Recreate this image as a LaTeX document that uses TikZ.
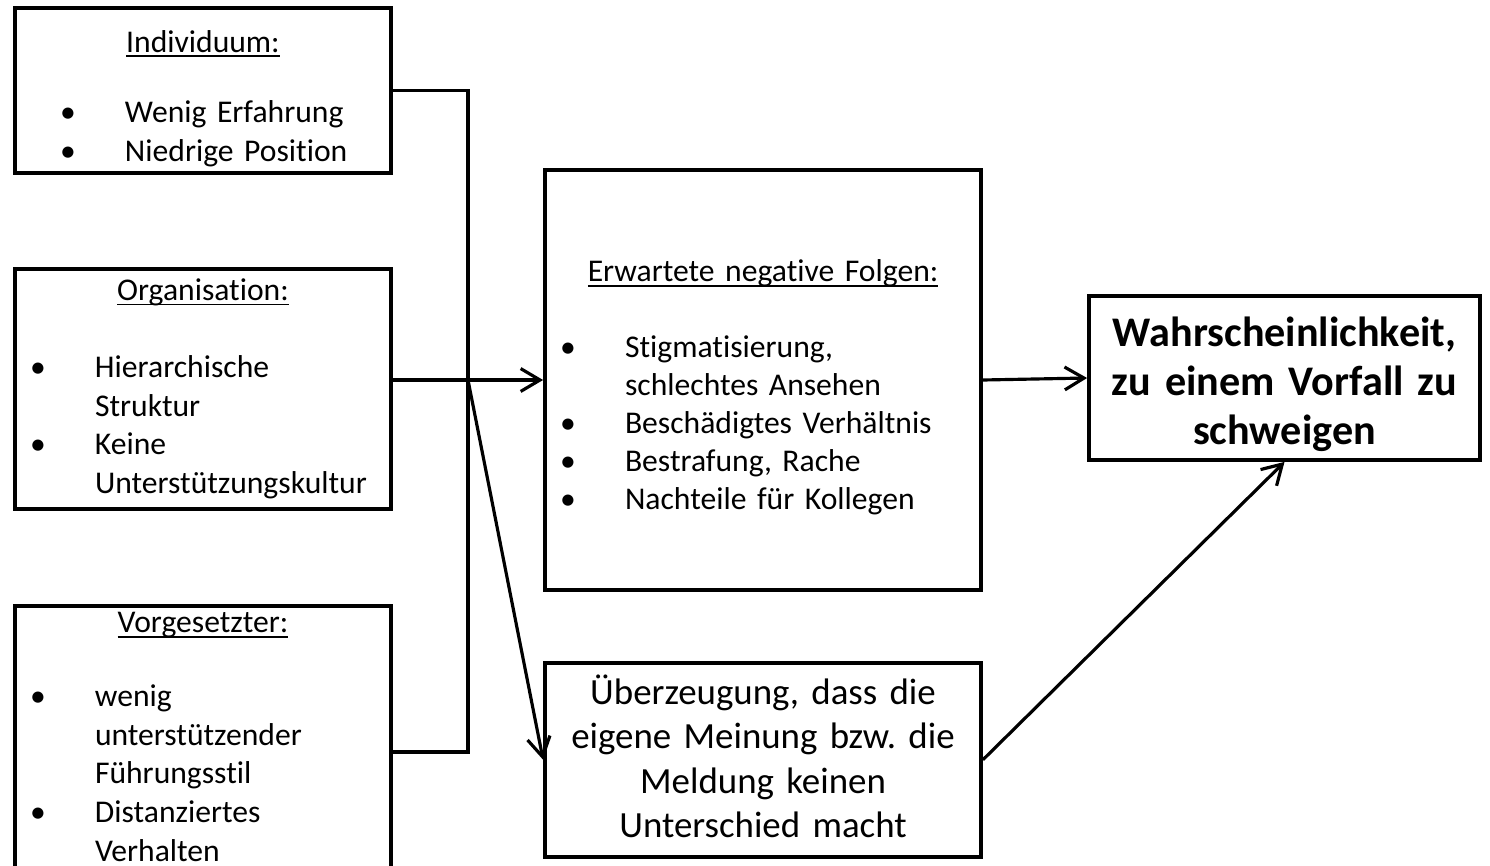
\documentclass[tikz,border=0pt]{standalone}
\usepackage{fontspec}
\setmainfont{Carlito}[Ligatures={NoCommon}]
\usetikzlibrary{arrows.meta,positioning}

\newlength{\bulw}
\setlength{\bulw}{1.3cm}
\newcommand{\ulhead}[1]{\setbox0\hbox{#1}\rlap{\rule[-0.16em]{\wd0}{0.06em}}\box0}
\newcommand{\bul}[2][0pt]{\par\noindent\hangindent=\dimexpr#1+\bulw\relax\hangafter=1\hspace*{#1}\makebox[\bulw][l]{\textbullet}#2\par}
\newcommand{\boxhead}[2][0pt]{{\centering\ulhead{#2}\par}\mbox{}\par\vspace{#1}}
\frenchspacing

\begin{document}
\begin{tikzpicture}[x=0.02cm, y=-0.02cm, node distance=1cm,
        box/.style={draw, line width=2.2pt, inner xsep=0.3cm, inner ysep=0pt},
        textbox/.style={box, align=left, font=\fontsize{18}{22}\selectfont},
        line/.style={line width=1.8pt},
        arrow/.style={line, -{Straight Barb[length=11pt,width=13pt]}}]
    \useasboundingbox (0,0) rectangle (1490,865);

        \node (1) [
            textbox,
            text width=6.92cm,
            minimum width=7.52cm,
            minimum height=3.3cm
        ] at (203,90.5)
        {\boxhead[-4pt]{\rule{0pt}{21.5pt}Individuum:}
            \bul[0.6cm]{Wenig Erfahrung}
            \bul[0.6cm]{Niedrige Position}
        };

        \node (2) [
            textbox,
            text width=6.92cm,
            minimum width=7.52cm,
            minimum height=4.8cm,
            below=1.84cm of 1
        ]
        {\boxhead{Organisation:}
            \bul{Hierarchische\newline Struktur}
            \bul{Keine\newline Unterstützungskultur}
        };

        \node (3) [
            textbox,
            text width=6.92cm,
            minimum width=7.52cm,
            minimum height=5.63cm,
            below=1.86cm of 2
        ]
        {\boxhead[-2pt]{Vorgesetzter:}
            \bul{wenig\newline unterstützender\newline Führungsstil}
            \bul{Distanziertes\newline Verhalten\rule[-11pt]{0pt}{11pt}}
        };

        \node (4) [
            textbox,
            font=\fontsize{18}{21.6}\selectfont,
            text width=8.12cm,
            minimum width=8.72cm,
            minimum height=8.4cm
        ] at (763,380)
        {\boxhead{\rule{0pt}{21pt}Erwartete negative Folgen:}
            \bul{Stigmatisierung,\newline schlechtes Ansehen}
            \bul{Beschädigtes Verhältnis}
            \bul{Bestrafung, Rache}
            \bul{Nachteile für Kollegen}
        };

        \node (5) [
            box,
            align=center,
            inner xsep=0.1cm,
            font=\fontsize{21}{25.2}\selectfont,
            text width=8.52cm,
            minimum width=8.72cm,
            minimum height=3.88cm,
            below=1.38cm of 4
        ]
        {Überzeugung, dass die\\
            eigene Meinung bzw. die\\
            Meldung keinen\\
            Unterschied macht\rule[-4pt]{0pt}{4pt}
        };

        \node (6) [
            box,
            align=center,
            inner xsep=0.1cm,
            font=\fontsize{24}{28}\selectfont\bfseries,
            text width=7.62cm,
            minimum width=7.82cm,
            minimum height=3.28cm
        ] at (1284.5,378)
        {\rule{0pt}{24pt}Wahrscheinlichkeit,\\
            zu einem Vorfall zu\\
            schweigen
        };

        \coordinate (j1) at (468,380);
        \coordinate (j2) at (468,752);

        \draw[line] (1.east) -| (j2) -- (3.east |- j2);
        \draw[arrow] (2.east |- 4.west) -- (4.west);
        \draw[arrow] (j1) -- (5.west);
        \draw[arrow] (4.east) -- (6.west);
        \draw[arrow] (5.east) -- (6.south);
    \end{tikzpicture}
\end{document}
